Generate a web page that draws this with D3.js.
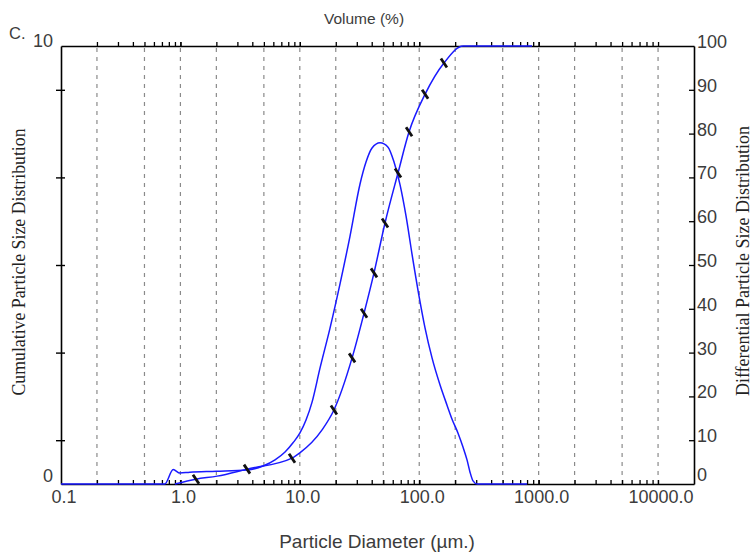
<!DOCTYPE html>
<html>
<head>
<meta charset="utf-8">
<script src="https://cdn.jsdelivr.net/npm/d3@7/dist/d3.min.js"></script>
<style>
  html, body { margin: 0; padding: 0; background: #fff; }
  svg { display: block; }
</style>
</head>
<body>
<svg id="chart" width="752" height="556"></svg>
<script>
// Differential distribution (left axis, 0-10)
const diffDiam = [0.1, 0.74, 0.87, 0.99, 1.2, 2.0, 3.6, 4.92, 6.2, 7.52, 8.77, 10.0, 11.27, 12.66, 14.77, 17.9, 21.71, 26.33, 31.93, 35.84, 40.25, 46.96, 54.8, 61.5, 69.1, 77.5, 87.0, 99.6, 111.9, 128.0, 149.4, 170.9, 188.3, 211.3, 232.8, 251.3, 266.3, 282.2, 304.9, 800];
const diffVal  = [0, 0, 0.33, 0.25, 0.27, 0.29, 0.32, 0.41, 0.55, 0.73, 0.94, 1.16, 1.46, 1.87, 2.65, 3.56, 4.57, 5.66, 6.85, 7.35, 7.67, 7.79, 7.69, 7.35, 6.83, 6.12, 5.25, 4.29, 3.56, 2.88, 2.26, 1.80, 1.48, 1.16, 0.84, 0.55, 0.27, 0.07, 0, 0];

// Cumulative distribution (right axis, 0-100 %)
const cumDiam = [0.9, 1.35, 2.03, 3.61, 8.6, 10.0, 15.3, 19.3, 27.4, 34.5, 41.8, 51.7, 66.4, 82.2, 112, 161, 233, 880];
const cumPct  = [0, 1.1, 1.8, 3.4, 5.9, 7.1, 12.3, 16.9, 28.8, 39.0, 48.2, 59.6, 71.0, 80.4, 89.0, 96.1, 100, 100];

// Marked points on the cumulative curve
const markDiam = [1.35, 3.61, 8.6, 19.3, 27.4, 34.5, 41.8, 51.7, 66.4, 82.2, 112, 161];
const markPct  = [1.1, 3.4, 5.9, 16.9, 28.8, 39.0, 48.2, 59.6, 71.0, 80.4, 89.0, 96.1];

// Axis labels
const xLabelVals = [0.1, 1, 10, 100, 1000, 10000];
const xLabelText = ["0.1", "1.0", "10.0", "100.0", "1000.0", "10000.0"];
const gridVals = [0.2, 0.5, 1, 2, 5, 10, 20, 50, 100, 200, 500, 1000, 2000, 5000, 10000];
const rightTicks = [0, 10, 20, 30, 40, 50, 60, 70, 80, 90, 100];
const leftTicks = [1, 3, 5, 7, 9];

const svg = d3.select("#chart");
const L = 61, R = 694, T = 46, B = 484;

const x = d3.scaleLog().domain([0.1, 20000]).range([L, R]);
const yL = d3.scaleLinear().domain([0, 10]).range([B, T]);
const yR = d3.scaleLinear().domain([0, 100]).range([B, T]);

// minor log ticks: every integer multiple within each decade
const minorTicks = [];
for (let e = -1; e <= 3; e++) {
  for (let m = 1; m <= 10; m++) {
    const v = m * Math.pow(10, e);
    if (v > 0.1 && v <= 10000) minorTicks.push(+v.toPrecision(6));
  }
}

// dashed vertical grid
svg.append("g").selectAll("line").data(gridVals).join("line")
  .attr("x1", d => x(d)).attr("x2", d => x(d))
  .attr("y1", T + 2).attr("y2", B)
  .attr("stroke", "#8a8a8a").attr("stroke-width", 1.2)
  .attr("stroke-dasharray", "4,5");

// top axis: ticks pointing outward
svg.append("g").attr("transform", `translate(0,${T})`)
  .call(d3.axisTop(x).tickValues(minorTicks).tickSizeInner(4).tickSizeOuter(0).tickFormat(""))
  .call(g => g.select(".domain").attr("stroke-width", 1.6))
  .call(g => g.selectAll(".tick line").attr("stroke-width", 1.3));

// bottom axis: ticks pointing inward
svg.append("g").attr("transform", `translate(0,${B})`)
  .call(d3.axisBottom(x).tickValues(minorTicks).tickSizeInner(-4).tickSizeOuter(0).tickFormat(""))
  .call(g => g.select(".domain").attr("stroke-width", 1.6))
  .call(g => g.selectAll(".tick line").attr("stroke-width", 1.3));

// left axis
svg.append("g").attr("transform", `translate(${L},0)`)
  .call(d3.axisLeft(yL).tickValues(leftTicks).tickSizeInner(5).tickSizeOuter(0).tickFormat(""))
  .call(g => g.select(".domain").attr("stroke-width", 1.6))
  .call(g => g.selectAll(".tick line").attr("x2", -5).attr("x1", 4).attr("stroke-width", 1.4));

// right axis: ticks inward
svg.append("g").attr("transform", `translate(${R},0)`)
  .call(d3.axisRight(yR).tickValues(rightTicks.slice(1, -1)).tickSizeInner(-5).tickSizeOuter(0).tickFormat(""))
  .call(g => g.select(".domain").attr("stroke-width", 1.6))
  .call(g => g.selectAll(".tick line").attr("stroke-width", 1.3));

const numFont = "'Liberation Sans', Arial, sans-serif";
const serifFont = "'Liberation Serif', 'Times New Roman', serif";
const txtCol = "#3c3c3c";

// bottom labels
svg.append("g").selectAll("text").data(xLabelVals).join("text")
  .attr("x", d => x(d) + 3).attr("y", 503)
  .attr("text-anchor", "middle")
  .attr("font-family", numFont).attr("font-size", 18).attr("fill", txtCol)
  .text((d, i) => xLabelText[i]);

// right labels
svg.append("g").selectAll("text").data(rightTicks).join("text")
  .attr("x", 697).attr("y", d => Math.min(yR(d) + 2, 481))
  .attr("font-family", numFont).attr("font-size", 18).attr("fill", txtCol)
  .text(d => d);

// left labels
svg.append("text").attr("x", 53).attr("y", 47).attr("text-anchor", "end")
  .attr("font-family", numFont).attr("font-size", 18).attr("fill", txtCol).text("10");
svg.append("text").attr("x", 53).attr("y", 482).attr("text-anchor", "end")
  .attr("font-family", numFont).attr("font-size", 18).attr("fill", txtCol).text("0");
svg.append("text").attr("x", 9).attr("y", 39)
  .attr("font-family", numFont).attr("font-size", 16.5).attr("fill", txtCol).text("C.");

// titles
svg.append("text").attr("x", 364).attr("y", 24).attr("text-anchor", "middle")
  .attr("font-family", numFont).attr("font-size", 15.5).attr("fill", txtCol).text("Volume (%)");
svg.append("text").attr("x", 377).attr("y", 548).attr("text-anchor", "middle")
  .attr("font-family", numFont).attr("font-size", 19).attr("fill", txtCol).text("Particle Diameter (µm.)");
svg.append("text").attr("transform", "translate(25,262) rotate(-90)").attr("text-anchor", "middle")
  .attr("font-family", serifFont).attr("font-size", 17.8).attr("fill", "#222").text("Cumulative Particle Size Distribution");
svg.append("text").attr("transform", "translate(749,261) rotate(-90)").attr("text-anchor", "middle")
  .attr("font-family", serifFont).attr("font-size", 18).attr("fill", "#222").text("Differential Particle Size Distribution");

// curves
const diffLine = d3.line().x((d, i) => x(diffDiam[i])).y((d, i) => yL(diffVal[i])).curve(d3.curveMonotoneX);
svg.append("path").attr("d", diffLine(diffDiam))
  .attr("fill", "none").attr("stroke", "#1a1aff").attr("stroke-width", 1.5);

const cumLine = d3.line().x((d, i) => x(cumDiam[i])).y((d, i) => yR(cumPct[i])).curve(d3.curveMonotoneX);
svg.append("path").attr("d", cumLine(cumDiam))
  .attr("fill", "none").attr("stroke", "#1a1aff").attr("stroke-width", 1.5);

// markers on the cumulative curve
svg.append("g").selectAll("line").data(markDiam).join("line")
  .attr("x1", (d, i) => x(d) - 3).attr("y1", (d, i) => yR(markPct[i]) - 4.5)
  .attr("x2", (d, i) => x(d) + 3).attr("y2", (d, i) => yR(markPct[i]) + 4.5)
  .attr("stroke", "#111").attr("stroke-width", 2.8);
</script>
</body>
</html>
